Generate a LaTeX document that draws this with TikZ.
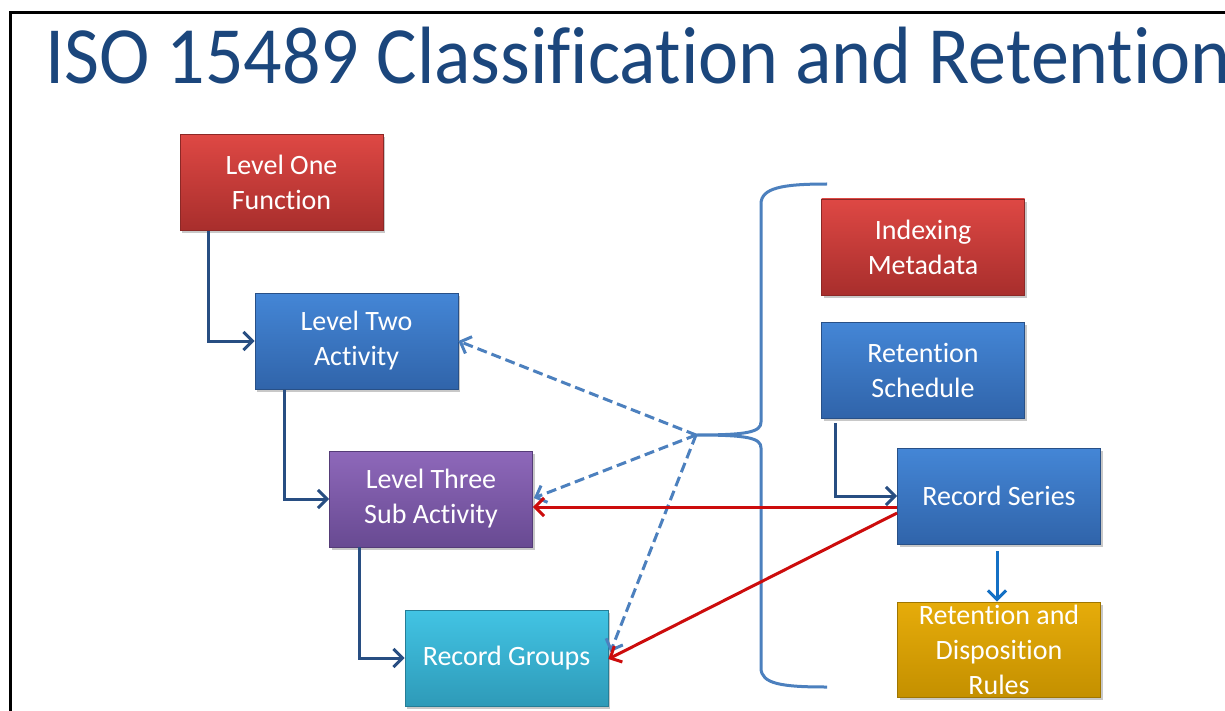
\documentclass[tikz,border=0pt]{standalone}
\usepackage{fontspec}
\setmainfont{Carlito}[Ligatures={NoCommon}]
\usetikzlibrary{arrows.meta,shadows,calc}
\definecolor{titleblue}{RGB}{27,70,124}
\definecolor{redT}{RGB}{222,72,68}
\definecolor{redB}{RGB}{168,46,44}
\definecolor{redD}{RGB}{140,40,38}
\definecolor{bluT}{RGB}{68,134,214}
\definecolor{bluB}{RGB}{48,100,170}
\definecolor{bluD}{RGB}{40,80,135}
\definecolor{purT}{RGB}{142,104,186}
\definecolor{purB}{RGB}{104,74,146}
\definecolor{purD}{RGB}{85,60,120}
\definecolor{cyaT}{RGB}{66,196,228}
\definecolor{cyaB}{RGB}{46,154,184}
\definecolor{cyaD}{RGB}{38,125,150}
\definecolor{golT}{RGB}{230,172,10}
\definecolor{golB}{RGB}{196,144,0}
\definecolor{golD}{RGB}{160,118,0}
\definecolor{connblue}{RGB}{40,78,130}
\definecolor{bracecol}{RGB}{76,128,190}
\definecolor{redline}{RGB}{204,12,12}
\definecolor{rulearrow}{RGB}{20,112,196}
\tikzset{
  box/.style={rectangle, minimum width=203pt, minimum height=96pt, inner sep=0pt,
    text=white, align=center, font=\fontsize{28}{35}\selectfont, line width=0.8pt,
    drop shadow={shadow xshift=2pt, shadow yshift=-3pt, opacity=0.3, fill=black!70}},
  boxtext/.style={inner sep=0pt, text=white, align=center, font=\fontsize{28}{35}\selectfont},
  redbox/.style={box, top color=redT, bottom color=redB, draw=redD},
  blubox/.style={box, top color=bluT, bottom color=bluB, draw=bluD},
  purbox/.style={box, top color=purT, bottom color=purB, draw=purD},
  cyabox/.style={box, top color=cyaT, bottom color=cyaB, draw=cyaD},
  golbox/.style={box, top color=golT, bottom color=golB, draw=golD},
  tipstyle/.style={-{Straight Barb[length=9pt,width=18pt]}},
  conn/.style={draw=connblue, line width=3pt, tipstyle},
  dasharrow/.style={draw=bracecol, line width=3pt, dash pattern=on 10pt off 5pt, tipstyle},
  redarrow/.style={draw=redline, line width=3pt, tipstyle},
  bracestyle/.style={draw=bracecol, line width=3pt},
}
\begin{document}
\begin{tikzpicture}[x=1pt,y=-1pt]
\useasboundingbox (0,0) rectangle (1225,711);
\clip (0,0) rectangle (1225,711);
\fill[white] (0,0) rectangle (1225,711);
% frame
\draw[line width=3pt, black] (10,720) -- (10,12.5) -- (1240,12.5);
% title
\node[anchor=base west, inner sep=0pt, text=titleblue, font=\fontsize{76}{80}\selectfont] (title) at (45,84) {\scalebox{1}[1.07]{ISO 15489 Classification and Retention}};
% boxes
\node[redbox] (l1) at (281.5,182.5) {Level One\\Function};
\node[blubox] (l2) at (356.5,341) {Level Two\\Activity};
\node[purbox] (l3) at (431,499) {Level Three\\Sub Activity};
\node[cyabox] (rg) at (506.5,658) {Record Groups};
\node[redbox] (im) at (923,247) {Indexing\\Metadata};
\node[blubox] (rsch) at (923,370) {Retention\\Schedule};
\node[blubox] (rs) at (999,496) {Record Series};
\node[golbox, minimum height=95pt] (rdr) at (999,649.5) {};
\node[boxtext] (rdrt) at (rdr.center) {Retention and\\Disposition\\Rules};
% brace
\coordinate (tip) at (696,435);
\coordinate (btop) at (827,184);
\coordinate (bbot) at (827,687);
\draw[bracestyle] (btop) .. controls (782,184) and (761,188) .. (761,204)
  -- (761,422) .. controls (761,432) and (748,435) .. (tip)
  .. controls (748,435) and (761,438) .. (761,448)
  -- (761,668) .. controls (761,684) and (782,687) .. (bbot);
% dashed arrows from brace tip
\draw[dasharrow] (tip) -- (l2.east);
\draw[dasharrow] (tip) -- ($(l3.east)+(1,-1)$);
\draw[dasharrow] (tip) -- ($(rg.east)+(2,-6)$);
% red arrows
\draw[redarrow] ($(rs.west)+(0,11)$) -- ($(l3.east)+(0,8)$);
\draw[redarrow] ($(rs.west)+(0,17)$) -- ($(rg.east)+(0,1)$);
% hierarchy connectors
\draw[conn] ($(l1.south west)+(29,0)$) |- (l2.west);
\draw[conn] ($(l2.south west)+(30,0)$) |- (l3.west);
\draw[conn] ($(l3.south west)+(30,0)$) |- (rg.west);
\draw[conn] ($(rsch.south west)+(14,5)$) |- (rs.west);
\draw[draw=rulearrow, line width=3pt, tipstyle] ($(rs.south)+(-2,7)$) -- ($(rdr.north)+(-2,0)$);
\end{tikzpicture}
\end{document}
